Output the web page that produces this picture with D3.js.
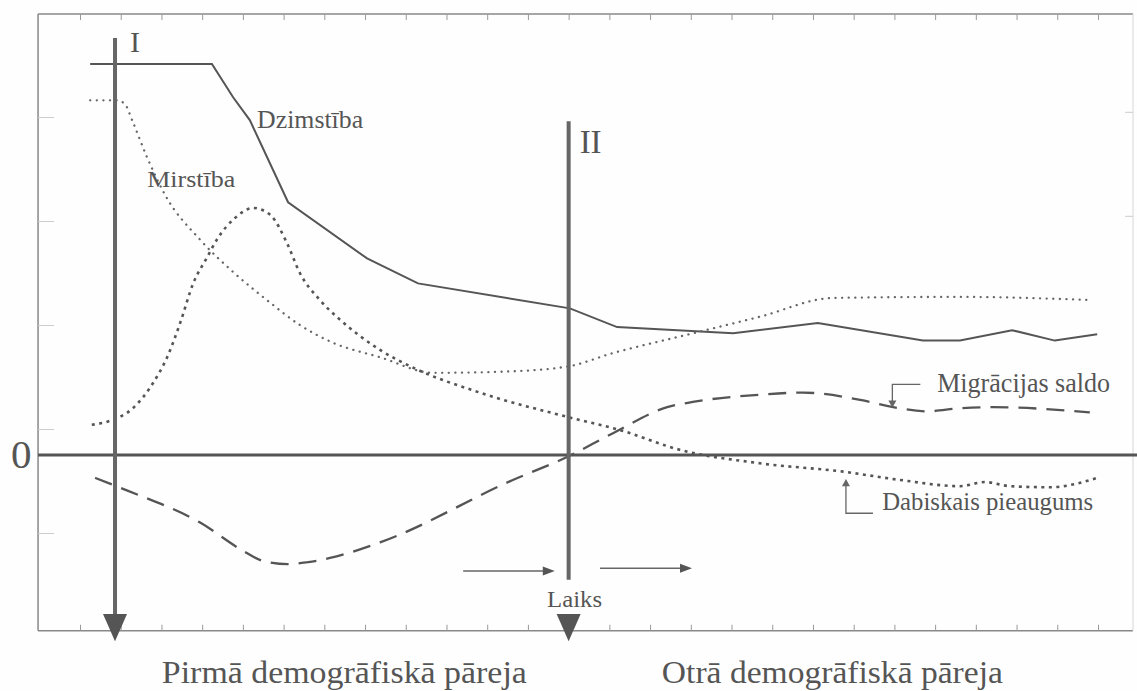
<!DOCTYPE html>
<html>
<head>
<meta charset="utf-8">
<script src="https://cdn.jsdelivr.net/npm/d3@7"></script>
<style>
  body { margin: 0; background: #fff; }
  svg text { font-family: "Liberation Serif", "Times New Roman", serif; fill: #555; }
</style>
</head>
<body>
<div id="chart"></div>
<script>
// [time, rate]
const dzimstiba = [
  [0.25, 37.6], [3.24, 37.6], [3.76, 34.4], [4.17, 32.2], [5.11, 24.3], [7.05, 18.9],
  [8.3, 16.5], [12.03, 14.1], [13.19, 12.3], [16.04, 11.7], [18.12, 12.7],
  [20.7, 11.0], [21.61, 11.0], [22.89, 12.0], [23.94, 11.0], [24.98, 11.6]
];
const mirstiba = [
  [0.25, 34.1], [0.93, 34.1], [1.11, 33.7], [1.3, 32.0], [1.65, 28.6],
  [2.09, 25.0], [2.95, 20.7], [3.76, 17.6], [4.59, 14.9], [5.4, 12.5],
  [6.21, 10.8], [7.37, 9.4], [8.67, 7.9], [10.31, 8.0], [11.96, 8.5],
  [13.09, 9.8], [15.05, 11.7], [16.7, 13.3], [18.49, 15.1], [21.61, 15.2],
  [24.8, 14.9]
];
const dabiskais = [
  [0.29, 2.9], [0.74, 3.3], [1.3, 4.5], [1.79, 6.9], [2.14, 9.4],
  [2.46, 12.7], [2.78, 16.5], [3.12, 19.0], [3.36, 20.7], [3.81, 22.8],
  [4.25, 23.75], [4.67, 23.1], [5.08, 20.4], [5.4, 17.5], [5.89, 14.9],
  [6.39, 13.0], [7.37, 10.1], [8.18, 8.4], [9.82, 6.0], [12.03, 3.6],
  [13.26, 2.4], [14.73, 0.5], [16.7, -0.8], [18.74, -1.6], [20.14, -2.4],
  [21.61, -3.0], [22.22, -2.6], [22.84, -3.0], [23.82, -3.1], [24.98, -2.2]
];
const migracija = [
  [0.37, -2.2], [1.15, -3.4], [2.95, -6.5], [4.0, -9.2], [4.5, -10.2],
  [5.1, -10.5], [5.6, -10.3], [6.14, -9.9], [7.37, -8.4], [10.63, -2.4],
  [11.96, -0.2], [13.09, 2.1], [14.42, 4.6], [15.05, 5.1], [16.7, 5.8],
  [17.76, 6.0], [19.16, 5.3], [19.97, 4.6], [20.8, 4.2], [21.61, 4.5],
  [22.42, 4.6], [24.8, 4.1]
];

// transition markers and labels
const markerTimes = [0.86, 12.0];
const markerNames = ['I', 'II'];
const seriesNames = ['Dzimstība', 'Mirstība', 'Dabiskais pieaugums', 'Migrācijas saldo'];
const phaseNames = ['Pirmā demogrāfiskā pāreja', 'Otrā demogrāfiskā pāreja'];
const timeLabel = 'Laiks';
const zeroLabel = '0';

// tick positions on the frame
const xTicks = d3.range(0, 26);
const yTicksLeft = [32.5, 22.5, 12.5, 2.5, -7.5];
const yTicksRight = [33, 23];

const w = 1137;
const h = 691;

const x = d3.scaleLinear().domain([0, 25]).range([80, 1098]);
const y = d3.scaleLinear().domain([-10, 40]).range([559, 39]);

const svg = d3.select('#chart')
    .append('svg')
    .attr('width', w)
    .attr('height', h);

svg.append('rect').attr('width', w).attr('height', h).attr('fill', '#fefefe');

// frame
const fx0 = x(-1.03);
const fx1 = x(25.86);
const fy0 = y(42.4);
const fy1 = y(-16.9);

svg.append('line').attr('x1', fx0).attr('x2', fx1).attr('y1', fy0).attr('y2', fy0)
    .attr('stroke', '#888').attr('stroke-width', 1.5);
svg.append('line').attr('x1', fx0).attr('x2', fx1).attr('y1', fy1).attr('y2', fy1)
    .attr('stroke', '#888').attr('stroke-width', 1.5);
svg.append('line').attr('x1', fx0).attr('x2', fx0).attr('y1', fy0).attr('y2', fy1)
    .attr('stroke', '#888').attr('stroke-width', 1.5);
svg.append('line').attr('x1', fx1).attr('x2', fx1).attr('y1', fy0).attr('y2', fy1)
    .attr('stroke', '#ddd').attr('stroke-width', 1.2);

function styleTicks(g, color) {
  g.select('.domain').remove();
  g.selectAll('line').attr('stroke', color).attr('stroke-width', 1);
}

svg.append('g')
    .attr('transform', 'translate(0,' + fy0 + ')')
    .call(d3.axisBottom(x).tickValues(xTicks).tickSize(6).tickFormat(''))
    .call((g) => styleTicks(g, '#999'));
svg.append('g')
    .attr('transform', 'translate(0,' + fy1 + ')')
    .call(d3.axisTop(x).tickValues(xTicks).tickSize(6).tickFormat(''))
    .call((g) => styleTicks(g, '#999'));
svg.append('g')
    .attr('transform', 'translate(' + fx0 + ',0)')
    .call(d3.axisRight(y).tickValues(yTicksLeft).tickSize(16).tickFormat(''))
    .call((g) => styleTicks(g, '#ccc'));
svg.append('g')
    .attr('transform', 'translate(' + fx1 + ',0)')
    .call(d3.axisLeft(y).tickValues(yTicksRight).tickSize(8).tickFormat(''))
    .call((g) => styleTicks(g, '#ccc'));

// zero line
svg.append('line')
    .attr('x1', fx0).attr('x2', w)
    .attr('y1', y(0)).attr('y2', y(0))
    .attr('stroke', '#555').attr('stroke-width', 3);

svg.append('text')
    .attr('x', 11).attr('y', y(-1.25))
    .attr('font-size', 41)
    .text(zeroLabel);

// series
const lineGen = (curve) => d3.line()
    .x((d) => x(d[0]))
    .y((d) => y(d[1]))
    .curve(curve);

svg.append('path').datum(dzimstiba)
    .attr('d', lineGen(d3.curveLinear))
    .attr('fill', 'none').attr('stroke', '#555').attr('stroke-width', 2);

svg.append('path').datum(mirstiba)
    .attr('d', lineGen(d3.curveMonotoneX))
    .attr('fill', 'none').attr('stroke', '#666').attr('stroke-width', 2.3)
    .attr('stroke-linecap', 'round').attr('stroke-dasharray', '0.1 6.5');

svg.append('path').datum(dabiskais)
    .attr('d', lineGen(d3.curveMonotoneX))
    .attr('fill', 'none').attr('stroke', '#555').attr('stroke-width', 2.6)
    .attr('stroke-dasharray', '3 4.5');

svg.append('path').datum(migracija)
    .attr('d', lineGen(d3.curveMonotoneX))
    .attr('fill', 'none').attr('stroke', '#555').attr('stroke-width', 2.3)
    .attr('stroke-dasharray', '18 10');

// transition markers (I, II) with down arrows
const markerTop = [40.1, 32.1];
const markerBottom = [-15.4, -12.0];
markerTimes.forEach((t, i) => {
  const mx = x(t);
  svg.append('line')
      .attr('x1', mx).attr('x2', mx)
      .attr('y1', y(markerTop[i])).attr('y2', y(markerBottom[i]))
      .attr('stroke', '#666').attr('stroke-width', 4);
  const ty = y(-15.3);
  const tip = y(-17.9);
  svg.append('path')
      .attr('d', 'M' + (mx - 12) + ',' + ty + 'L' + (mx + 12) + ',' + ty + 'L' + mx + ',' + tip + 'Z')
      .attr('fill', '#555');
  svg.append('text')
      .attr('x', mx + (i === 0 ? 15 : 11))
      .attr('y', i === 0 ? y(38.75) : y(29.0))
      .attr('font-size', i === 0 ? 30 : 33)
      .text(markerNames[i]);
});

// time arrows
const timeArrows = [[9.41, 11.66, -11.15], [12.77, 15.03, -10.9]];
timeArrows.forEach((a) => {
  const x1 = x(a[0]);
  const x2 = x(a[1]);
  const ay = y(a[2]);
  svg.append('line')
      .attr('x1', x1).attr('x2', x2 - 8)
      .attr('y1', ay).attr('y2', ay)
      .attr('stroke', '#666').attr('stroke-width', 1.5);
  svg.append('path')
      .attr('d', 'M' + (x2 - 12) + ',' + (ay - 4.5) + 'L' + x2 + ',' + ay + 'L' + (x2 - 12) + ',' + (ay + 4.5) + 'Z')
      .attr('fill', '#555');
});

svg.append('text')
    .attr('x', x(11.47)).attr('y', y(-14.6))
    .attr('font-size', 23)
    .attr('textLength', 55).attr('lengthAdjust', 'spacingAndGlyphs')
    .text(timeLabel);

// series labels
svg.append('text')
    .attr('x', x(4.35)).attr('y', y(31.4))
    .attr('font-size', 25)
    .attr('textLength', 106).attr('lengthAdjust', 'spacingAndGlyphs')
    .text(seriesNames[0]);
svg.append('text')
    .attr('x', x(1.65)).attr('y', y(25.8))
    .attr('font-size', 24)
    .attr('textLength', 88).attr('lengthAdjust', 'spacingAndGlyphs')
    .text(seriesNames[1]);
svg.append('text')
    .attr('x', x(19.7)).attr('y', y(-5.29))
    .attr('font-size', 25)
    .attr('textLength', 211).attr('lengthAdjust', 'spacingAndGlyphs')
    .text(seriesNames[2]);
svg.append('text')
    .attr('x', x(21.05)).attr('y', y(6.06))
    .attr('font-size', 27)
    .attr('textLength', 173).attr('lengthAdjust', 'spacingAndGlyphs')
    .text(seriesNames[3]);

// leader for Migrācijas saldo (points down to the dashed line)
const mlx = x(19.95);
svg.append('path')
    .attr('d', 'M' + (mlx + 28) + ',' + y(6.8) + 'H' + mlx + 'V' + y(5.2))
    .attr('fill', 'none').attr('stroke', '#666').attr('stroke-width', 1.3);
svg.append('path')
    .attr('d', 'M' + (mlx - 4) + ',' + y(5.25) + 'L' + (mlx + 4) + ',' + y(5.25) + 'L' + mlx + ',' + y(4.55) + 'Z')
    .attr('fill', '#666');

// leader for Dabiskais pieaugums (points up to the dotted line)
const dlx = x(18.81);
svg.append('path')
    .attr('d', 'M' + (dlx + 27) + ',' + y(-5.6) + 'H' + dlx + 'V' + y(-2.9))
    .attr('fill', 'none').attr('stroke', '#666').attr('stroke-width', 1.3);
svg.append('path')
    .attr('d', 'M' + (dlx - 4) + ',' + y(-3.0) + 'L' + (dlx + 4) + ',' + y(-3.0) + 'L' + dlx + ',' + y(-2.3) + 'Z')
    .attr('fill', '#666');

// phase labels under the frame
svg.append('text')
    .attr('x', x(2.01)).attr('y', y(-21.9))
    .attr('font-size', 31)
    .attr('textLength', 365).attr('lengthAdjust', 'spacingAndGlyphs')
    .text(phaseNames[0]);
svg.append('text')
    .attr('x', x(14.29)).attr('y', y(-21.9))
    .attr('font-size', 31)
    .attr('textLength', 341).attr('lengthAdjust', 'spacingAndGlyphs')
    .text(phaseNames[1]);
</script>
</body>
</html>
